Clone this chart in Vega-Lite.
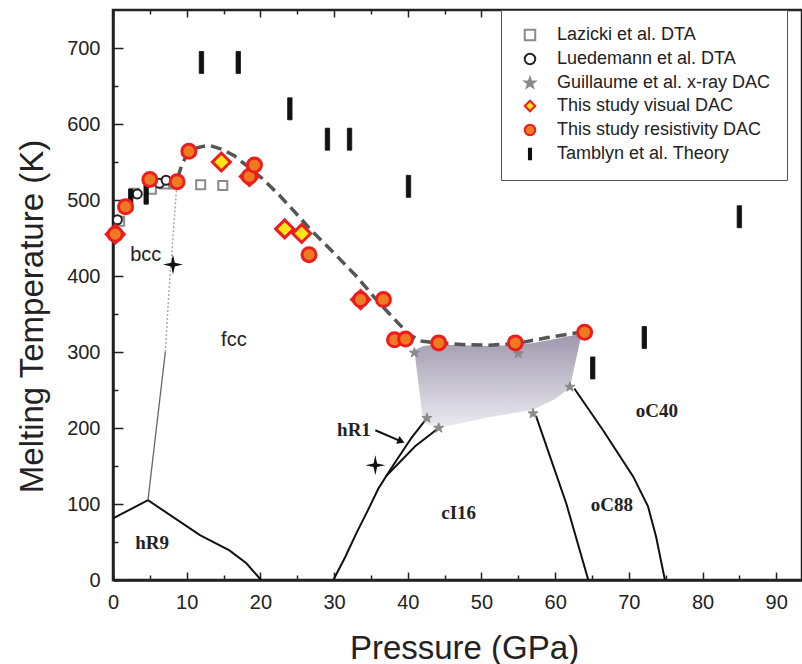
{
  "$schema": "https://vega.github.io/schema/vega-lite/v6.json",
  "width": 689,
  "height": 570,
  "autosize": {"type": "none"},
  "padding": {"left": 113, "top": 10, "right": 0, "bottom": 84},
  "background": "white",
  "config": {
    "view": {"stroke": "#222", "strokeWidth": 2.5},
    "axis": {
      "domainColor": "#222", "domainWidth": 2.5, "tickColor": "#222", "tickWidth": 1.5,
      "labelFont": "Liberation Sans", "labelFontSize": 20, "labelColor": "#222",
      "titleFont": "Liberation Sans", "titleFontSize": 33, "titleFontWeight": "normal", "titleColor": "#222",
      "grid": false, "labelFlush": false, "labelOverlap": false
    },
    "legend": {"labelLimit": 400}
  },
  "datasets": {
    "pts": [
      {"series": "Lazicki et al. DTA", "P": 0.9, "T": 472},
      {"series": "Lazicki et al. DTA", "P": 2.9, "T": 509},
      {"series": "Lazicki et al. DTA", "P": 5.2, "T": 514},
      {"series": "Lazicki et al. DTA", "P": 7.0, "T": 521},
      {"series": "Lazicki et al. DTA", "P": 8.3, "T": 521},
      {"series": "Lazicki et al. DTA", "P": 11.9, "T": 520},
      {"series": "Lazicki et al. DTA", "P": 14.9, "T": 519},
      {"series": "Luedemann et al. DTA", "P": 0.6, "T": 474},
      {"series": "Luedemann et al. DTA", "P": 3.3, "T": 508},
      {"series": "Luedemann et al. DTA", "P": 6.3, "T": 522},
      {"series": "Luedemann et al. DTA", "P": 7.2, "T": 526},
      {"series": "Guillaume et al. x-ray DAC", "P": 40.9, "T": 299},
      {"series": "Guillaume et al. x-ray DAC", "P": 42.6, "T": 213},
      {"series": "Guillaume et al. x-ray DAC", "P": 44.2, "T": 200},
      {"series": "Guillaume et al. x-ray DAC", "P": 55.0, "T": 298},
      {"series": "Guillaume et al. x-ray DAC", "P": 57.0, "T": 219},
      {"series": "Guillaume et al. x-ray DAC", "P": 62.0, "T": 254},
      {"series": "Tamblyn et al. Theory", "P": 2.4, "T": 500},
      {"series": "Tamblyn et al. Theory", "P": 4.5, "T": 509},
      {"series": "Tamblyn et al. Theory", "P": 12.0, "T": 681},
      {"series": "Tamblyn et al. Theory", "P": 17.0, "T": 681},
      {"series": "Tamblyn et al. Theory", "P": 24.0, "T": 620},
      {"series": "Tamblyn et al. Theory", "P": 29.1, "T": 580},
      {"series": "Tamblyn et al. Theory", "P": 32.1, "T": 580},
      {"series": "Tamblyn et al. Theory", "P": 40.1, "T": 518},
      {"series": "Tamblyn et al. Theory", "P": 65.1, "T": 279},
      {"series": "Tamblyn et al. Theory", "P": 72.1, "T": 319},
      {"series": "Tamblyn et al. Theory", "P": 85.0, "T": 478},
      {"series": "This study visual DAC", "P": 0.3, "T": 455},
      {"series": "This study visual DAC", "P": 14.7, "T": 550},
      {"series": "This study visual DAC", "P": 18.5, "T": 531},
      {"series": "This study visual DAC", "P": 23.3, "T": 462},
      {"series": "This study visual DAC", "P": 25.6, "T": 456},
      {"series": "This study visual DAC", "P": 33.6, "T": 369},
      {"series": "This study resistivity DAC", "P": 0.3, "T": 455},
      {"series": "This study resistivity DAC", "P": 1.7, "T": 491},
      {"series": "This study resistivity DAC", "P": 5.0, "T": 527},
      {"series": "This study resistivity DAC", "P": 8.7, "T": 524},
      {"series": "This study resistivity DAC", "P": 10.3, "T": 564},
      {"series": "This study resistivity DAC", "P": 18.5, "T": 531},
      {"series": "This study resistivity DAC", "P": 19.2, "T": 546},
      {"series": "This study resistivity DAC", "P": 26.6, "T": 428},
      {"series": "This study resistivity DAC", "P": 33.6, "T": 369},
      {"series": "This study resistivity DAC", "P": 36.7, "T": 369},
      {"series": "This study resistivity DAC", "P": 38.2, "T": 316},
      {"series": "This study resistivity DAC", "P": 39.7, "T": 317},
      {"series": "This study resistivity DAC", "P": 44.2, "T": 312},
      {"series": "This study resistivity DAC", "P": 54.6, "T": 312},
      {"series": "This study resistivity DAC", "P": 64.0, "T": 326}
    ],
    "curve": [
      {"P": 8.8, "T": 530}, {"P": 9.4, "T": 548}, {"P": 10.2, "T": 562}, {"P": 11.5, "T": 569},
      {"P": 13, "T": 572}, {"P": 15, "T": 566}, {"P": 16.5, "T": 558}, {"P": 18.3, "T": 544},
      {"P": 20.3, "T": 528}, {"P": 22.4, "T": 508}, {"P": 24.5, "T": 486}, {"P": 27, "T": 459},
      {"P": 30, "T": 430}, {"P": 33, "T": 400}, {"P": 36, "T": 366}, {"P": 38.5, "T": 340},
      {"P": 40.3, "T": 322}, {"P": 42, "T": 314}, {"P": 44.2, "T": 312}, {"P": 48, "T": 309.5},
      {"P": 51, "T": 309}, {"P": 54.6, "T": 311}, {"P": 59, "T": 319}, {"P": 64, "T": 327}
    ],
    "region": [
      {"P": 40.9, "T": 302, "T2": 302},
      {"P": 42.1, "T": 308, "T2": 207},
      {"P": 44.2, "T": 310, "T2": 200},
      {"P": 47, "T": 309, "T2": 206},
      {"P": 51, "T": 308, "T2": 214},
      {"P": 54, "T": 309, "T2": 219},
      {"P": 57, "T": 312, "T2": 224},
      {"P": 60, "T": 317, "T2": 238},
      {"P": 62, "T": 321, "T2": 253},
      {"P": 63.6, "T": 324, "T2": 324}
    ],
    "lines": [
      {"seg": "h9", "i": 0, "P": 0, "T": 81},
      {"seg": "h9", "i": 1, "P": 4.75, "T": 105},
      {"seg": "h9", "i": 2, "P": 11.8, "T": 59},
      {"seg": "h9", "i": 3, "P": 15.8, "T": 39},
      {"seg": "h9", "i": 4, "P": 18.1, "T": 22},
      {"seg": "h9", "i": 5, "P": 20.1, "T": 0},
      {"seg": "c1", "i": 0, "P": 29.9, "T": 0},
      {"seg": "c1", "i": 1, "P": 31.5, "T": 30},
      {"seg": "c1", "i": 2, "P": 33, "T": 61},
      {"seg": "c1", "i": 3, "P": 34.6, "T": 92},
      {"seg": "c1", "i": 4, "P": 36, "T": 120},
      {"seg": "c1", "i": 5, "P": 37.1, "T": 137},
      {"seg": "c1", "i": 6, "P": 38.5, "T": 158},
      {"seg": "c1", "i": 7, "P": 40.5, "T": 187},
      {"seg": "c1", "i": 8, "P": 42.6, "T": 213},
      {"seg": "c2", "i": 0, "P": 37.1, "T": 137},
      {"seg": "c2", "i": 1, "P": 39, "T": 156},
      {"seg": "c2", "i": 2, "P": 41, "T": 176},
      {"seg": "c2", "i": 3, "P": 44.2, "T": 200},
      {"seg": "o88", "i": 0, "P": 57.4, "T": 216},
      {"seg": "o88", "i": 1, "P": 61.5, "T": 101},
      {"seg": "o88", "i": 2, "P": 64.5, "T": 0},
      {"seg": "o40", "i": 0, "P": 62.6, "T": 252},
      {"seg": "o40", "i": 1, "P": 66.5, "T": 197},
      {"seg": "o40", "i": 2, "P": 70.6, "T": 136},
      {"seg": "o40", "i": 3, "P": 72.6, "T": 97},
      {"seg": "o40", "i": 4, "P": 73.7, "T": 57},
      {"seg": "o40", "i": 5, "P": 74.9, "T": 0},
      {"seg": "arr", "i": 0, "P": 35.6, "T": 197},
      {"seg": "arr", "i": 1, "P": 39.1, "T": 182.4},
      {"seg": "b1", "i": 0, "P": 4.75, "T": 105},
      {"seg": "b1", "i": 1, "P": 7.1, "T": 300},
      {"seg": "b2", "i": 0, "P": 7.1, "T": 300},
      {"seg": "b2", "i": 1, "P": 7.6, "T": 380},
      {"seg": "b2", "i": 2, "P": 8.2, "T": 460},
      {"seg": "b2", "i": 3, "P": 8.7, "T": 525}
    ],
    "arrowhead": [{"P": 39.1, "T": 182.4}],
    "crosses": [{"P": 8.14, "T": 415}, {"P": 35.6, "T": 151}],
    "sans": [
      {"label": "bcc", "P": 4.45, "T": 428},
      {"label": "fcc", "P": 16.4, "T": 316}
    ],
    "serif": [
      {"label": "hR9", "P": 5.3, "T": 49},
      {"label": "hR1", "P": 32.7, "T": 197.5},
      {"label": "cI16", "P": 46.9, "T": 88.6},
      {"label": "oC88", "P": 67.7, "T": 98.7},
      {"label": "oC40", "P": 73.8, "T": 222.5}
    ]
  },
  "resolve": {"axis": {"x": "independent"}},
  "layer": [
    {
      "encoding": {
        "x": {
          "field": "P", "type": "quantitative",
          "scale": {"domain": [0, 93.5], "nice": false, "zero": false},
          "axis": {
            "values": [0, 5, 10, 15, 20, 25, 30, 35, 40, 45, 50, 55, 60, 65, 70, 75, 80, 85, 90],
            "labelExpr": "datum.value % 10 === 0 ? datum.label : ''",
            "tickSize": {"condition": {"test": "datum.value % 10 === 0", "value": -8}, "value": -5},
            "labelPadding": 20,
            "title": "Pressure (GPa)",
            "titleX": 351, "titleY": 78, "titleBaseline": "alphabetic"
          }
        },
        "y": {
          "field": "T", "type": "quantitative",
          "scale": {"domain": [0, 750], "nice": false, "zero": false},
          "axis": {
            "values": [0, 50, 100, 150, 200, 250, 300, 350, 400, 450, 500, 550, 600, 650, 700],
            "labelExpr": "datum.value % 100 === 0 ? datum.label : ''",
            "tickSize": {"condition": {"test": "datum.value % 100 === 0", "value": -10}, "value": -5},
            "labelPadding": 23,
            "title": "Melting Temperature (K)",
            "titleX": -71, "titleY": 306, "titleBaseline": "alphabetic"
          }
        }
      },
      "layer": [
        {
          "data": {"name": "region"},
          "mark": {
            "type": "area",
            "fill": {"gradient": "linear", "x1": 0, "y1": 0, "x2": 0, "y2": 1,
              "stops": [{"offset": 0, "color": "#9d98ad"}, {"offset": 1, "color": "#ecebf1"}]},
            "opacity": 1
          },
          "encoding": {"y2": {"field": "T2"}}
        },
        {
          "data": {"name": "lines"},
          "transform": [{"filter": {"field": "seg", "oneOf": ["h9", "c1", "c2", "o88", "o40", "arr"]}}],
          "mark": {"type": "line", "color": "#111", "strokeWidth": 2},
          "encoding": {"detail": {"field": "seg"}, "order": {"field": "i"}}
        },
        {
          "data": {"name": "lines"},
          "transform": [{"filter": {"field": "seg", "equal": "b1"}}],
          "mark": {"type": "line", "color": "#666", "strokeWidth": 1.3},
          "encoding": {"order": {"field": "i"}}
        },
        {
          "data": {"name": "lines"},
          "transform": [{"filter": {"field": "seg", "equal": "b2"}}],
          "mark": {"type": "line", "color": "#aaa", "strokeWidth": 1.5, "strokeDash": [2, 2]},
          "encoding": {"order": {"field": "i"}}
        },
        {
          "data": {"name": "curve"},
          "mark": {"type": "line", "color": "#555", "strokeWidth": 3.5, "strokeDash": [11, 6]},
          "encoding": {}
        },
        {
          "data": {"name": "arrowhead"},
          "mark": {"type": "point", "shape": "triangle-right", "angle": 24, "size": 70, "filled": true, "color": "#111", "opacity": 1},
          "encoding": {}
        },
        {
          "data": {"name": "pts"},
          "encoding": {
            "shape": {"field": "series", "type": "nominal",
              "scale": {"domain": ["Lazicki et al. DTA", "Luedemann et al. DTA", "Guillaume et al. x-ray DAC", "This study visual DAC", "This study resistivity DAC", "Tamblyn et al. Theory"],
                "range": ["square", "circle", "M0,-1L0.235,-0.324L0.951,-0.309L0.38,0.124L0.588,0.809L0,0.4L-0.588,0.809L-0.38,0.124L-0.951,-0.309L-0.235,-0.324Z", "diamond", "circle", "M-0.2,-1L0.2,-1L0.2,1L-0.2,1Z"]},
              "legend": {"title": null, "orient": "none", "legendX": 388, "legendY": 0, "padding": 16, "strokeColor": "#555", "fillColor": "white", "labelFont": "Liberation Sans", "labelFontSize": 18, "labelColor": "#222", "labelLimit": 400, "symbolSize": 110, "symbolStrokeWidth": 2, "rowPadding": 4, "labelOffset": 18, "symbolOffset": 4}},
            "fill": {"field": "series", "type": "nominal",
              "scale": {"domain": ["Lazicki et al. DTA", "Luedemann et al. DTA", "Guillaume et al. x-ray DAC", "This study visual DAC", "This study resistivity DAC", "Tamblyn et al. Theory"],
                "range": ["white", "white", "#8a8a8a", "#ffe61a", "#ee7a22", "#111111"]},
              "legend": {"title": null, "orient": "none", "legendX": 388, "legendY": 0, "padding": 16, "strokeColor": "#555", "fillColor": "white", "labelFont": "Liberation Sans", "labelFontSize": 18, "labelColor": "#222", "labelLimit": 400, "symbolSize": 110, "symbolStrokeWidth": 2, "rowPadding": 4, "labelOffset": 18, "symbolOffset": 4}},
            "stroke": {"field": "series", "type": "nominal",
              "scale": {"domain": ["Lazicki et al. DTA", "Luedemann et al. DTA", "Guillaume et al. x-ray DAC", "This study visual DAC", "This study resistivity DAC", "Tamblyn et al. Theory"],
                "range": ["#8a8a8a", "#222222", "#8a8a8a", "#ee1c1c", "#ee1c1c", "#111111"]},
              "legend": {"title": null, "orient": "none", "legendX": 388, "legendY": 0, "padding": 16, "strokeColor": "#555", "fillColor": "white", "labelFont": "Liberation Sans", "labelFontSize": 18, "labelColor": "#222", "labelLimit": 400, "symbolSize": 110, "symbolStrokeWidth": 2, "rowPadding": 4, "labelOffset": 18, "symbolOffset": 4}}
          },
          "layer": [
            {"transform": [{"filter": {"field": "series", "equal": "Lazicki et al. DTA"}}], "mark": {"type": "point", "size": 81, "strokeWidth": 2, "opacity": 1}},
            {"transform": [{"filter": {"field": "series", "equal": "Luedemann et al. DTA"}}], "mark": {"type": "point", "size": 81, "strokeWidth": 2, "opacity": 1}},
            {"transform": [{"filter": {"field": "series", "equal": "Guillaume et al. x-ray DAC"}}], "mark": {"type": "point", "size": 110, "strokeWidth": 1, "opacity": 1}},
            {"transform": [{"filter": {"field": "series", "equal": "Tamblyn et al. Theory"}}], "mark": {"type": "point", "size": 484, "strokeWidth": 0.8, "opacity": 1}},
            {"transform": [{"filter": {"field": "series", "equal": "This study visual DAC"}}], "mark": {"type": "point", "size": 324, "strokeWidth": 3, "opacity": 1}},
            {"transform": [{"filter": {"field": "series", "equal": "This study resistivity DAC"}}], "mark": {"type": "point", "size": 196, "strokeWidth": 3, "opacity": 1}}
          ]
        },
        {
          "data": {"name": "crosses"},
          "mark": {"type": "point", "shape": "M0,-1L0.18,-0.18L1,0L0.18,0.18L0,1L-0.18,0.18L-1,0L-0.18,-0.18Z", "size": 400, "filled": true, "color": "#111", "opacity": 1},
          "encoding": {}
        },
        {
          "data": {"name": "sans"},
          "mark": {"type": "text", "font": "Liberation Sans", "fontSize": 20, "color": "#222"},
          "encoding": {"text": {"field": "label"}}
        },
        {
          "data": {"name": "serif"},
          "mark": {"type": "text", "font": "Liberation Serif", "fontSize": 19, "fontWeight": "bold", "color": "#222"},
          "encoding": {"text": {"field": "label"}}
        }
      ]
    },
    {
      "data": {"name": "arrowhead"},
      "mark": {"type": "point", "opacity": 0},
      "encoding": {
        "x": {
          "field": "P", "type": "quantitative",
          "scale": {"domain": [0, 93.5], "nice": false, "zero": false},
          "axis": {
            "orient": "top",
            "values": [0, 5, 10, 15, 20, 25, 30, 35, 40, 45, 50, 55, 60, 65, 70, 75, 80, 85, 90],
            "labels": false, "domain": false, "title": null,
            "tickSize": {"condition": {"test": "datum.value % 10 === 0", "value": -7}, "value": -4}
          }
        },
        "y": {"field": "T", "type": "quantitative"}
      }
    }
  ]
}
